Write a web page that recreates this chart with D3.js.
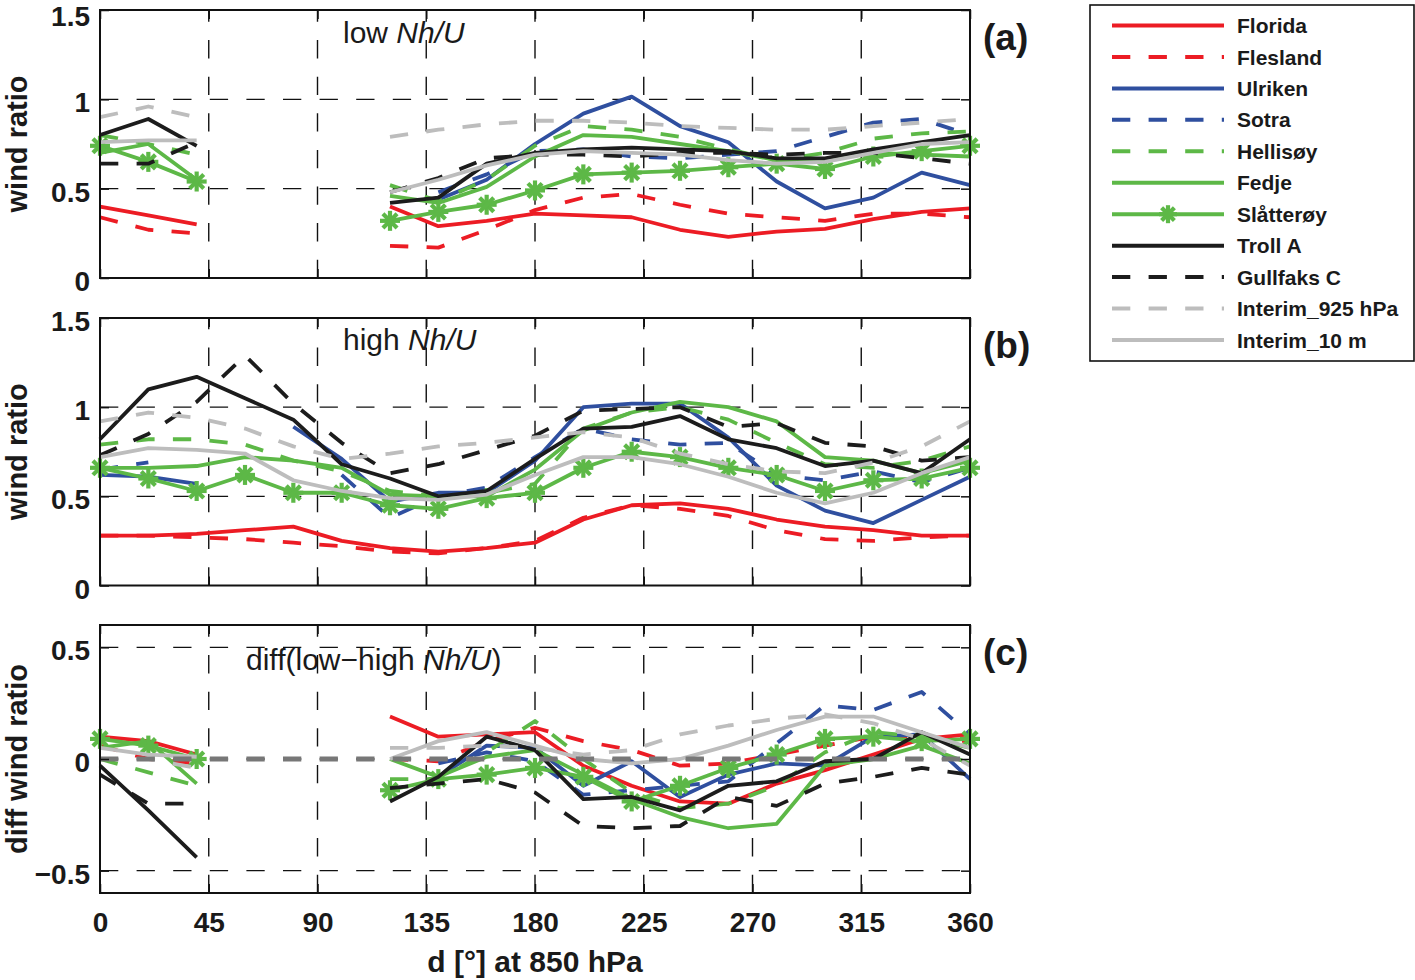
<!DOCTYPE html>
<html>
<head>
<meta charset="utf-8">
<script src="https://cdn.jsdelivr.net/npm/d3@7"></script>
<style>
  body { margin: 0; background: #fff; }
  svg text { font-family: "Liberation Sans", Arial, Helvetica, sans-serif; fill: #1a1a1a; }
</style>
</head>
<body>
<div id="chart"></div>
<script>
var angles = [0, 20, 40, 60, 80, 100, 120, 140, 160, 180, 200, 220, 240, 260, 280, 300, 320, 340, 360];
var xTicks = [0, 45, 90, 135, 180, 225, 270, 315, 360];
var yTicksAB = [0, 0.5, 1, 1.5];
var yTicksC = [-0.5, 0, 0.5];
var stations = ["Florida", "Flesland", "Ulriken", "Sotra", "Hellisøy", "Fedje", "Slåtterøy",
  "Troll A", "Gullfaks C", "Interim_925 hPa", "Interim_10 m"];
var N = null;

// (a) low Nh/U
var florida_a   = [0.40, 0.35, 0.30, N, N, N, 0.40, 0.29, 0.32, 0.36, 0.35, 0.34, 0.27, 0.23, 0.26, 0.275, 0.33, 0.37, 0.39];
var flesland_a  = [0.34, 0.27, 0.25, N, N, N, 0.18, 0.17, 0.27, 0.38, 0.45, 0.47, 0.41, 0.36, 0.34, 0.32, 0.36, 0.36, 0.34];
var ulriken_a   = [0.52, N, N, N, N, N, N, 0.44, 0.55, 0.75, 0.92, 1.015, 0.85, 0.76, 0.54, 0.39, 0.45, 0.59, 0.52];
var sotra_a     = [N, N, N, N, N, N, N, 0.48, 0.58, 0.71, 0.72, 0.68, 0.67, 0.69, 0.71, 0.79, 0.87, 0.89, 0.80];
var hellisoy_a  = [0.80, 0.75, 0.69, N, N, N, 0.52, 0.43, 0.55, 0.74, 0.85, 0.83, 0.79, 0.72, 0.66, 0.70, 0.78, 0.81, 0.82];
var fedje_a     = [0.70, 0.75, 0.55, N, N, N, 0.46, 0.42, 0.51, 0.68, 0.80, 0.79, 0.75, 0.71, 0.66, 0.66, 0.70, 0.69, 0.68];
var slatteroy_a = [0.74, 0.65, 0.54, N, N, N, 0.32, 0.37, 0.41, 0.49, 0.58, 0.59, 0.60, 0.62, 0.64, 0.61, 0.68, 0.71, 0.74];
var trollA_a    = [0.80, 0.89, 0.74, N, N, N, 0.42, 0.45, 0.64, 0.70, 0.72, 0.73, 0.72, 0.71, 0.67, 0.67, 0.72, 0.76, 0.80];
var gullfaks_a  = [0.64, 0.64, 0.76, N, N, N, 0.48, 0.56, 0.67, 0.69, 0.69, 0.68, 0.70, 0.70, 0.69, 0.70, 0.70, 0.67, 0.64];
var int925_a    = [0.90, 0.96, 0.90, N, N, N, 0.79, 0.83, 0.86, 0.88, 0.88, 0.87, 0.85, 0.84, 0.83, 0.83, 0.85, 0.87, 0.89];
var int10_a     = [0.76, 0.77, 0.77, N, N, N, 0.48, 0.55, 0.63, 0.69, 0.71, 0.70, 0.69, 0.66, 0.64, 0.65, 0.70, 0.75, 0.76];

// (b) high Nh/U
var florida_b   = [0.28, 0.28, 0.29, 0.31, 0.33, 0.25, 0.21, 0.19, 0.21, 0.24, 0.37, 0.45, 0.46, 0.43, 0.37, 0.33, 0.31, 0.28, 0.28];
var flesland_b  = [0.28, 0.28, 0.27, 0.26, 0.24, 0.22, 0.19, 0.18, 0.21, 0.25, 0.38, 0.45, 0.43, 0.39, 0.31, 0.26, 0.25, 0.27, 0.28];
var ulriken_b   = [0.62, 0.61, 0.57, N, 0.89, 0.71, 0.47, 0.52, 0.52, 0.70, 1.00, 1.02, 1.02, 0.83, 0.56, 0.42, 0.35, 0.48, 0.61];
var sotra_b     = [0.65, 0.69, N, N, N, 0.62, 0.38, 0.50, 0.55, 0.72, 0.88, 0.82, 0.79, 0.80, 0.62, 0.59, 0.64, 0.58, 0.66];
var hellisoy_b  = [0.79, 0.82, 0.82, 0.79, 0.70, 0.64, 0.53, 0.50, 0.52, 0.57, 0.88, 0.97, 1.00, 0.93, 0.80, 0.68, 0.66, 0.70, 0.78];
var fedje_b     = [0.66, 0.66, 0.67, 0.72, 0.70, 0.66, 0.51, 0.50, 0.50, 0.65, 0.87, 0.97, 1.03, 1.00, 0.92, 0.72, 0.70, 0.63, 0.70];
var slatteroy_b = [0.66, 0.60, 0.53, 0.62, 0.52, 0.52, 0.45, 0.43, 0.49, 0.52, 0.66, 0.75, 0.72, 0.66, 0.62, 0.53, 0.59, 0.60, 0.66];
var trollA_b    = [0.82, 1.10, 1.17, 1.05, 0.93, 0.68, 0.60, 0.50, 0.53, 0.71, 0.88, 0.89, 0.95, 0.82, 0.77, 0.67, 0.70, 0.63, 0.82];
var gullfaks_b  = [0.73, 0.85, 1.03, 1.29, 1.02, 0.80, 0.63, 0.68, 0.76, 0.84, 0.98, 0.99, 1.00, 0.89, 0.91, 0.80, 0.78, 0.70, 0.72];
var int925_b    = [0.92, 0.97, 0.94, 0.88, 0.78, 0.71, 0.74, 0.78, 0.80, 0.83, 0.86, 0.83, 0.74, 0.68, 0.64, 0.63, 0.69, 0.78, 0.92];
var int10_b     = [0.72, 0.77, 0.76, 0.74, 0.59, 0.53, 0.49, 0.48, 0.51, 0.62, 0.72, 0.72, 0.68, 0.61, 0.52, 0.46, 0.52, 0.63, 0.72];

// (c) diff(low - high Nh/U)
var florida_c   = [0.10, 0.08, 0.02, N, N, N, 0.19, 0.10, 0.11, 0.12, -0.03, -0.12, -0.19, -0.20, -0.11, -0.05, 0.02, 0.09, 0.11];
var flesland_c  = [0.06, 0.00, -0.02, N, N, N, 0.00, -0.01, 0.08, 0.14, 0.08, 0.04, -0.03, -0.02, 0.02, 0.06, 0.10, 0.09, 0.08];
var ulriken_c   = [-0.10, N, N, N, N, N, N, -0.08, 0.06, 0.05, -0.12, -0.01, -0.17, -0.07, -0.02, -0.03, 0.10, 0.11, -0.09];
var sotra_c     = [N, N, N, N, N, N, N, -0.02, 0.03, -0.01, -0.16, -0.14, -0.12, -0.10, 0.07, 0.24, 0.22, 0.30, 0.11];
var hellisoy_c  = [0.00, -0.06, -0.12, N, N, N, -0.09, -0.09, 0.03, 0.17, 0.00, -0.15, -0.22, -0.20, -0.12, 0.03, 0.12, 0.10, 0.05];
var fedje_c     = [0.05, 0.08, -0.11, N, N, N, 0.00, -0.08, 0.01, 0.04, -0.07, -0.18, -0.26, -0.31, -0.29, -0.03, 0.00, 0.06, -0.02];
var slatteroy_c = [0.09, 0.06, 0.00, N, N, N, -0.14, -0.09, -0.07, -0.04, -0.08, -0.19, -0.12, -0.04, 0.02, 0.09, 0.10, 0.08, 0.09];
var trollA_c    = [-0.03, -0.23, -0.44, N, N, N, -0.19, -0.08, 0.10, 0.04, -0.18, -0.17, -0.23, -0.12, -0.10, -0.01, 0.00, 0.12, 0.02];
var gullfaks_c  = [-0.07, -0.20, -0.20, N, N, N, -0.13, -0.11, -0.09, -0.15, -0.30, -0.31, -0.30, -0.17, -0.21, -0.11, -0.08, -0.04, -0.07];
var int925_c    = [0.00, 0.00, -0.04, N, N, N, 0.05, 0.05, 0.06, 0.05, 0.02, 0.04, 0.11, 0.15, 0.18, 0.20, 0.16, 0.09, -0.03];
var int10_c     = [0.05, 0.02, 0.01, N, N, N, 0.00, 0.08, 0.12, 0.06, 0.00, -0.02, 0.00, 0.06, 0.13, 0.19, 0.19, 0.12, 0.05];

var red = "#ec1c24", blue = "#2f4f9f", green = "#5db847", black = "#1c1c1c", grey = "#bdbdbd";
var styles = [
  { color: red }, { color: red, dash: true },
  { color: blue }, { color: blue, dash: true },
  { color: green, dash: true }, { color: green }, { color: green, marker: true },
  { color: black }, { color: black, dash: true },
  { color: grey, dash: true }, { color: grey }
];
var dashArr = "18.3,18.3";

var panels = [
  { top: 10, bottom: 278, domain: [0, 1.5], ticks: yTicksAB, tag: "(a)", ylabel: "wind ratio",
    note: ["low ", "Nh/U", ""], noteX: 343, noteY: 43,
    data: [florida_a, flesland_a, ulriken_a, sotra_a, hellisoy_a, fedje_a, slatteroy_a, trollA_a, gullfaks_a, int925_a, int10_a] },
  { top: 318, bottom: 585.5, domain: [0, 1.5], ticks: yTicksAB, tag: "(b)", ylabel: "wind ratio",
    note: ["high ", "Nh/U", ""], noteX: 343, noteY: 350,
    data: [florida_b, flesland_b, ulriken_b, sotra_b, hellisoy_b, fedje_b, slatteroy_b, trollA_b, gullfaks_b, int925_b, int10_b] },
  { top: 625, bottom: 893, domain: [-0.6, 0.6], ticks: yTicksC, tag: "(c)", ylabel: "diff wind ratio",
    note: ["diff(low\u2212high ", "Nh/U", ")"], noteX: 246, noteY: 670, zero: true,
    data: [florida_c, flesland_c, ulriken_c, sotra_c, hellisoy_c, fedje_c, slatteroy_c, trollA_c, gullfaks_c, int925_c, int10_c] }
];

var W = 1415, H = 980, left = 100, right = 970;

var svg = d3.select("#chart").append("svg")
  .attr("width", W).attr("height", H);

var x = d3.scaleLinear().domain([0, 360]).range([left, right]);

function star(g, cx, cy, r, color) {
  [0, 45, 90, 135].forEach(function (a) {
    var c = Math.cos(a * Math.PI / 180) * r, s = Math.sin(a * Math.PI / 180) * r;
    g.append("line")
      .attr("x1", cx - c).attr("y1", cy - s)
      .attr("x2", cx + c).attr("y2", cy + s)
      .attr("stroke", color).attr("stroke-width", 4.2);
  });
}

function styleTicks(sel) {
  sel.selectAll(".tick line").attr("stroke", "#111").attr("stroke-width", 1.5);
  sel.selectAll(".tick text")
    .attr("font-size", 28).attr("font-weight", "bold")
    .attr("font-family", "Liberation Sans, Arial, sans-serif").attr("fill", "#1a1a1a");
}

panels.forEach(function (p, pi) {
  var y = d3.scaleLinear().domain(p.domain).range([p.bottom, p.top]);
  var g = svg.append("g");

  // panel note, under grid like in the original
  var t = g.append("text")
    .attr("x", p.noteX).attr("y", p.noteY)
    .attr("font-size", 30);
  t.append("tspan").text(p.note[0]);
  t.append("tspan").attr("font-style", "italic").text(p.note[1]);
  t.append("tspan").text(p.note[2]);

  // grid
  xTicks.slice(1, -1).forEach(function (v) {
    g.append("line")
      .attr("x1", x(v)).attr("x2", x(v))
      .attr("y1", p.bottom).attr("y2", p.top)
      .attr("stroke", "#111").attr("stroke-width", 1.4)
      .attr("stroke-dasharray", dashArr);
  });
  p.ticks.forEach(function (v) {
    if (y(v) <= p.top + 1 || y(v) >= p.bottom - 1) return;
    g.append("line")
      .attr("x1", left).attr("x2", right)
      .attr("y1", y(v)).attr("y2", y(v))
      .attr("stroke", "#111").attr("stroke-width", 1.4)
      .attr("stroke-dasharray", dashArr);
  });

  // series
  var line = d3.line()
    .defined(function (d) { return d[1] != null; })
    .x(function (d) { return x(d[0]); })
    .y(function (d) { return y(d[1]); });

  p.data.forEach(function (vals, si) {
    var st = styles[si];
    var pts = angles.map(function (a, i) { return [a, vals[i]]; });
    g.append("path")
      .attr("d", line(pts))
      .attr("fill", "none")
      .attr("stroke", st.color)
      .attr("stroke-width", 3.8)
      .attr("stroke-linejoin", "round")
      .attr("stroke-dasharray", st.dash ? dashArr : null);
    if (st.marker) {
      pts.forEach(function (d) {
        if (d[1] != null) star(g, x(d[0]), y(d[1]), 10, st.color);
      });
    }
  });

  if (p.zero) {
    g.append("line")
      .attr("x1", left).attr("x2", right)
      .attr("y1", y(0)).attr("y2", y(0))
      .attr("stroke", "#777").attr("stroke-width", 5)
      .attr("stroke-dasharray", dashArr);
  }

  // axes
  var ax = g.append("g").attr("transform", "translate(0," + p.bottom + ")")
    .call(d3.axisBottom(x).tickValues(xTicks).tickSize(-9).tickPadding(19));
  if (pi < 2) ax.selectAll("text").remove();
  styleTicks(ax);
  var axT = g.append("g").attr("transform", "translate(0," + p.top + ")")
    .call(d3.axisTop(x).tickValues(xTicks).tickSize(-9).tickFormat(""));
  styleTicks(axT);
  var axL = g.append("g").attr("transform", "translate(" + left + ",0)")
    .call(d3.axisLeft(y).tickValues(p.ticks).tickSize(-9).tickPadding(10).tickFormat(d3.format("")));
  styleTicks(axL);
  axL.selectAll(".tick text").attr("dy", function (d) { return y(d) < 20 ? "0.56em" : "0.45em"; });
  var axR = g.append("g").attr("transform", "translate(" + right + ",0)")
    .call(d3.axisRight(y).tickValues(p.ticks).tickSize(-9).tickFormat(""));
  styleTicks(axR);
  g.selectAll(".domain").remove();

  g.append("rect")
    .attr("x", left).attr("y", p.top)
    .attr("width", right - left).attr("height", p.bottom - p.top)
    .attr("fill", "none").attr("stroke", "#111").attr("stroke-width", 2);

  g.append("text")
    .attr("transform", "translate(27," + (p.top + p.bottom) / 2 + ") rotate(-90)")
    .attr("text-anchor", "middle")
    .attr("font-size", 29).attr("font-weight", "bold")
    .text(p.ylabel);

  g.append("text")
    .attr("x", 983).attr("y", p.top + 40)
    .attr("font-size", 37).attr("font-weight", "bold")
    .text(p.tag);
});

svg.append("text")
  .attr("x", (left + right) / 2).attr("y", 972)
  .attr("text-anchor", "middle")
  .attr("font-size", 30).attr("font-weight", "bold")
  .text("d [°] at 850 hPa");

// legend
var lg = svg.append("g");
lg.append("rect")
  .attr("x", 1090).attr("y", 5).attr("width", 324).attr("height", 356)
  .attr("fill", "#fff").attr("stroke", "#111").attr("stroke-width", 1.6);

stations.forEach(function (name, i) {
  var st = styles[i];
  var ry = 25.5 + i * 31.45;
  lg.append("line")
    .attr("x1", 1112).attr("x2", 1224)
    .attr("y1", ry).attr("y2", ry)
    .attr("stroke", st.color).attr("stroke-width", 4)
    .attr("stroke-dasharray", st.dash ? dashArr : null);
  if (st.marker) star(lg, 1168, ry, 9, st.color);
  lg.append("text")
    .attr("x", 1237).attr("y", ry)
    .attr("dy", "0.36em")
    .attr("font-size", 21).attr("font-weight", "bold")
    .text(name);
});
</script>
</body>
</html>
